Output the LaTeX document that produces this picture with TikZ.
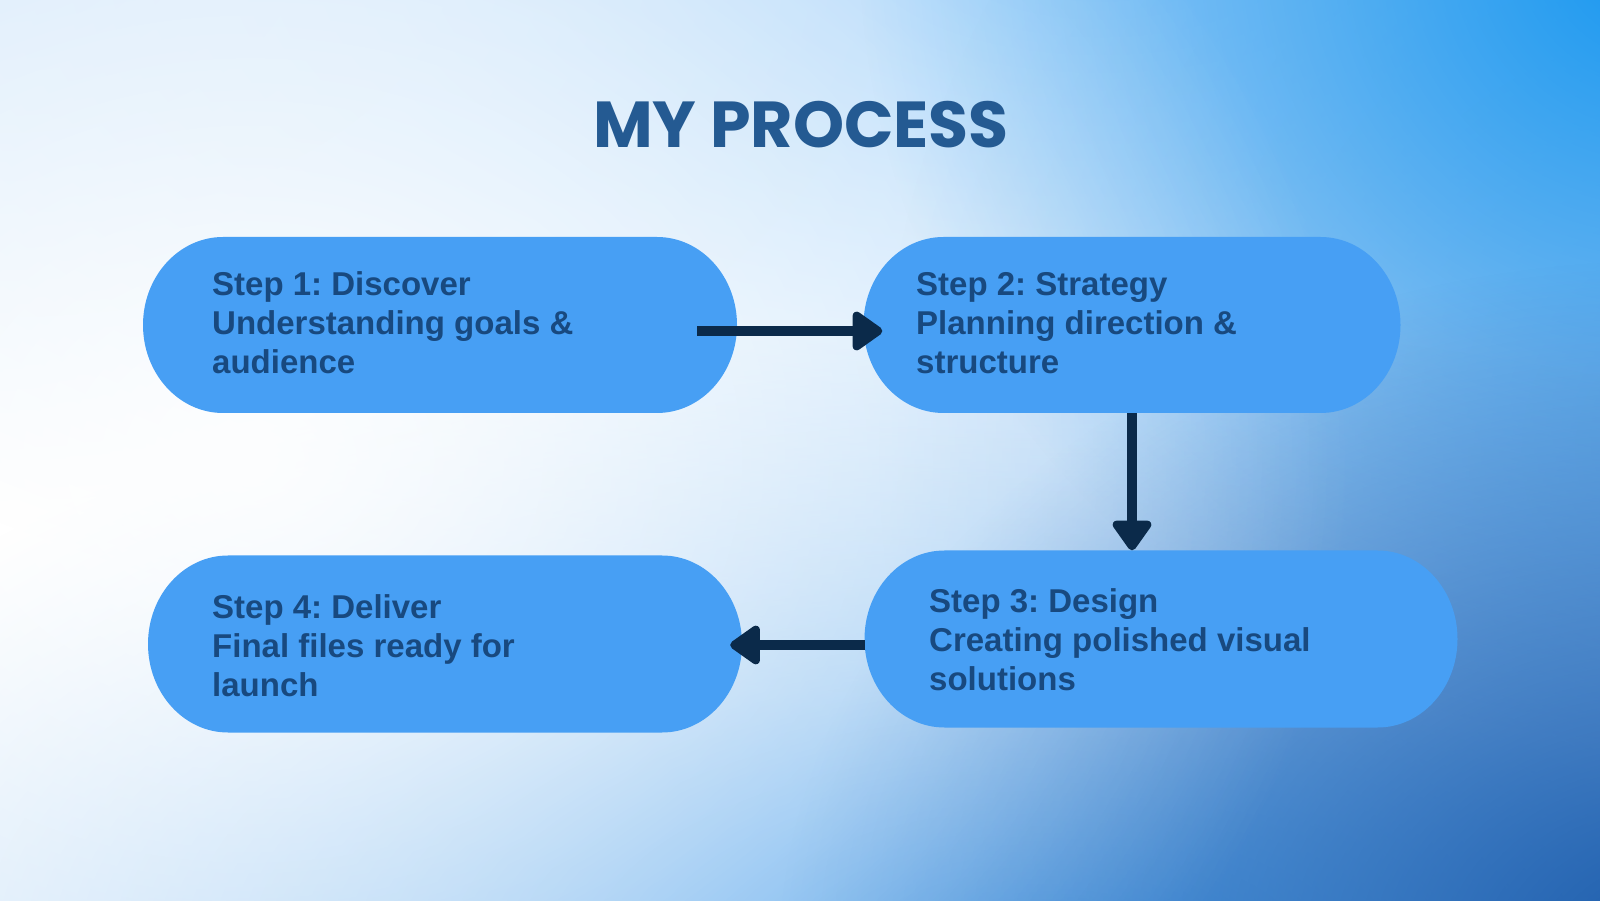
\documentclass[tikz,border=0pt]{standalone}
\usepackage{fontspec}
\usetikzlibrary{arrows.meta,fadings,calc}
\newfontfamily\titlefont{Poppins}
\newfontfamily\labfont{Liberation Sans}
\definecolor{boxfill}{HTML}{479FF4}
\definecolor{labtext}{HTML}{18497F}
\definecolor{titlecol}{HTML}{245A92}
\definecolor{arrowcol}{HTML}{0B2A4A}
\definecolor{bgtop}{HTML}{A8D4FA}
\definecolor{bgbot}{HTML}{4A9EEA}
\definecolor{bgtr}{HTML}{1496F0}
\definecolor{bgbr}{HTML}{1A5AAA}
\definecolor{bgtl}{HTML}{D0E6FA}
\definecolor{bgrm}{HTML}{A8C6EE}
\tikzfading[name=glow, inner color=transparent!0, outer color=transparent!100]
\tikzset{
  lab/.style={font=\labfont\bfseries\fontsize{33}{39}\selectfont, text=labtext, align=left, anchor=west, inner sep=0},
  arr/.style={draw=arrowcol, line width=10pt, -{Triangle[length=33pt,width=44pt,round]}},
  blob/.style={path fading=glow},
}
\newcommand\pillbox[5]{%
  \fill[boxfill] ({#2-#4/2+80},{#3-#5/2}) -- ({#2+#4/2-80},{#3-#5/2})
    arc[start angle=-90,end angle=90,x radius=80,y radius=#5/2]
    -- ({#2-#4/2+80},{#3+#5/2})
    arc[start angle=90,end angle=270,x radius=80,y radius=#5/2] -- cycle;
  \node[minimum width=#4, minimum height=#5, inner sep=0] (#1) at (#2,#3) {};
}
\frenchspacing
\begin{document}
\begin{tikzpicture}[x=1pt,y=1pt]
\useasboundingbox (0,0) rectangle (1600,900);
% background
\fill[white] (0,0) rectangle (1600,900);
\fill[bgtop, blob] (1100,950) ellipse [x radius=1700, y radius=750];
\fill[bgtl, blob] (0,950) ellipse [x radius=900, y radius=550];
\fill[bgrm, blob] (1680,450) ellipse [x radius=800, y radius=900];
\fill[bgbot, blob] (1050,-60) ellipse [x radius=1400, y radius=640];
\fill[bgtr, blob] (1660,960) ellipse [x radius=800, y radius=800];
\fill[bgbr, blob] (1680,-60) ellipse [x radius=900, y radius=700];
\fill[white, blob, opacity=0.9] (250,440) ellipse [x radius=1100, y radius=900];
% title
\node[font=\titlefont\bfseries\fontsize{65}{70}\selectfont, text=titlecol, anchor=base, inner sep=0] (title) at (801,752) {MY PROCESS};
% boxes
\pillbox{n1}{440}{575}{594}{176}
\pillbox{n2}{1132}{575}{537}{176}
\pillbox{n3}{1161}{261}{593}{177}
\pillbox{n4}{445}{256}{594}{177}
\node[lab] (t1) at (212,577) {Step 1: Discover\\Understanding goals \&\\audience};
\node[lab] (t2) at (916,577) {Step 2: Strategy\\Planning direction \&\\structure};
\node[lab] (t3) at (929,260) {Step 3: Design\\Creating polished visual\\solutions};
\node[lab] (t4) at (212,254) {Step 4: Deliver\\Final files ready for\\launch};
% connectors
\draw[arr] ($(n1.east)+(-40,-6)$) -- ($(n2.west)+(19,-6)$);
\draw[arr] (n2.south) -- (n2.south |- n3.north);
\draw[arr] ($(n3.west)+(1,-6)$) -- ($(n4.east)+(-12,-1)$);
\end{tikzpicture}
\end{document}
